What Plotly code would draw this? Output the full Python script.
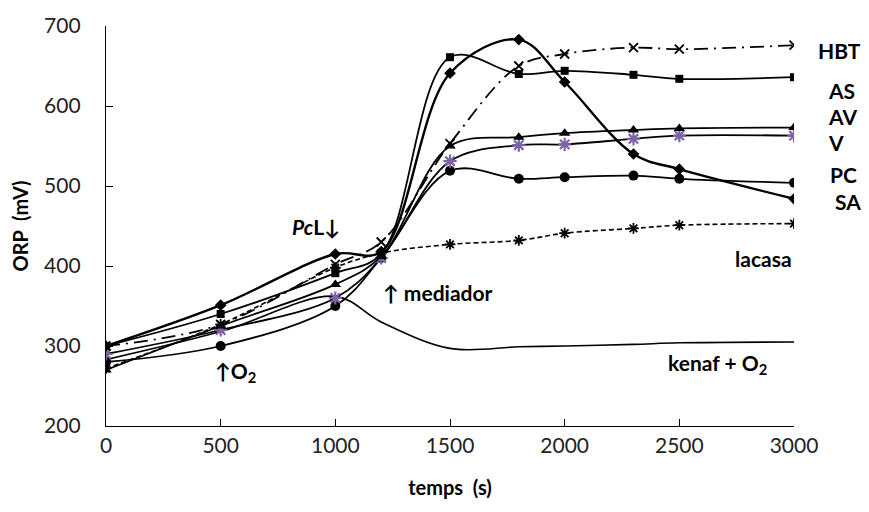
import plotly.graph_objects as go

# ---------------- data ----------------
temps = [0, 500, 1000, 1200, 1500, 1800, 2000, 2300, 2500, 3000]
hbt    = [300, 327, 402, 430, 553, 650, 665, 673, 671, 676]
as_    = [300, 340, 391, 415, 661, 640, 644, 639, 634, 636]
sa     = [300, 351, 415, 418, 641, 683, 630, 540, 521, 484]
av     = [270, 325, 377, 412, 550, 561, 566, 570, 572, 573]
v      = [290, 320, 360, 410, 531, 551, 552, 559, 563, 563]
pc     = [280, 300, 350, 410, 519, 509, 511, 513, 509, 504]
lacasa = [272, 327, 398, 416, 427, 432, 441, 447, 451, 453]
kenaf  = [283, 318, 362, 330, 297, 299, 300, 302, 304, 305]

x_ticks = [0, 500, 1000, 1500, 2000, 2500, 3000]
y_ticks = [200, 300, 400, 500, 600, 700]

FONT = "Lato"
PURPLE = "#7d62a6"

fig = go.Figure()

def add(y, name, symbol, size, color="black", lw=1.8, dash="solid", mline=None, mcolor=None):
    marker = dict(symbol=symbol, size=size, color=mcolor or color)
    if mline is not None:
        marker["line"] = dict(color=mcolor or color, width=mline)
    fig.add_trace(go.Scatter(
        x=temps, y=y, name=name, mode="lines+markers" if symbol else "lines",
        line=dict(color="black", width=lw, dash=dash, shape="spline", smoothing=1.0),
        marker=marker if symbol else None,
        showlegend=False))

add(kenaf, "kenaf + O2", None, 0, lw=1.6)
add(lacasa, "lacasa", "asterisk-open", 9, lw=1.6, dash="5px,3px", mline=1.8)
add(pc, "PC", "circle", 10, lw=1.8)
add(v, "V", "asterisk-open", 11, lw=1.8, mline=2.2, mcolor=PURPLE)
add(av, "AV", "triangle-up", 10, lw=1.8)
add(as_, "AS", "square", 8, lw=1.8)
add(hbt, "HBT", "x-thin-open", 9, lw=1.8, dash="14px,6px,2px,6px", mline=1.8)
add(sa, "SA", "diamond", 9, lw=2.4)

# plot area in pixels
L, R, T, B = 106, 794, 23, 426
W, H = 869, 512

def px(xp):
    return (xp - L) / (R - L)

def py(yp):
    return (B - yp) / (B - T)

labels = [
    ("HBT", 816, 48), ("AS", 826, 88), ("AV", 826, 114), ("V", 826, 140),
    ("PC", 828, 173), ("SA", 833, 200), ("lacasa", 733, 257),
    ("kenaf + O<sub>2</sub>", 666, 364), ("↑ mediador", 381, 292),
    ("<i>Pc</i>L↓", 290, 225), ("↑O<sub>2</sub>", 213, 372),
]
for text, x0, y0 in labels:
    fig.add_annotation(text="<b>" + text + "</b>", x=px(x0), y=py(y0),
                       xref="paper", yref="paper", xanchor="left", yanchor="middle",
                       showarrow=False, font=dict(family=FONT, size=21, color="black"))

axis_common = dict(showgrid=False, zeroline=False, showline=True, linecolor="black",
                   linewidth=1.4, ticks="inside", ticklen=7, tickwidth=1.4, tickcolor="black",
                   tickfont=dict(family=FONT, size=21, color="#222"))

fig.update_layout(
    width=W, height=H,
    margin=dict(l=L, r=W - R, t=T, b=H - B),
    plot_bgcolor="white", paper_bgcolor="white",
    xaxis=dict(range=[0, 3000], tickvals=x_ticks, ticktext=[str(t) for t in x_ticks],
               title=dict(text="<b>temps  (s)</b>", font=dict(family=FONT, size=20, color="black"),
                          standoff=24),
               ticklabelstandoff=1, **axis_common),
    yaxis=dict(range=[200, 700], tickvals=y_ticks, ticktext=[str(t) for t in y_ticks],
               title=dict(text="<b>ORP  (mV)</b>", font=dict(family=FONT, size=20, color="black"),
                          standoff=10),
               ticklabelstandoff=20, **axis_common),
)

fig.write_html("out.html")
